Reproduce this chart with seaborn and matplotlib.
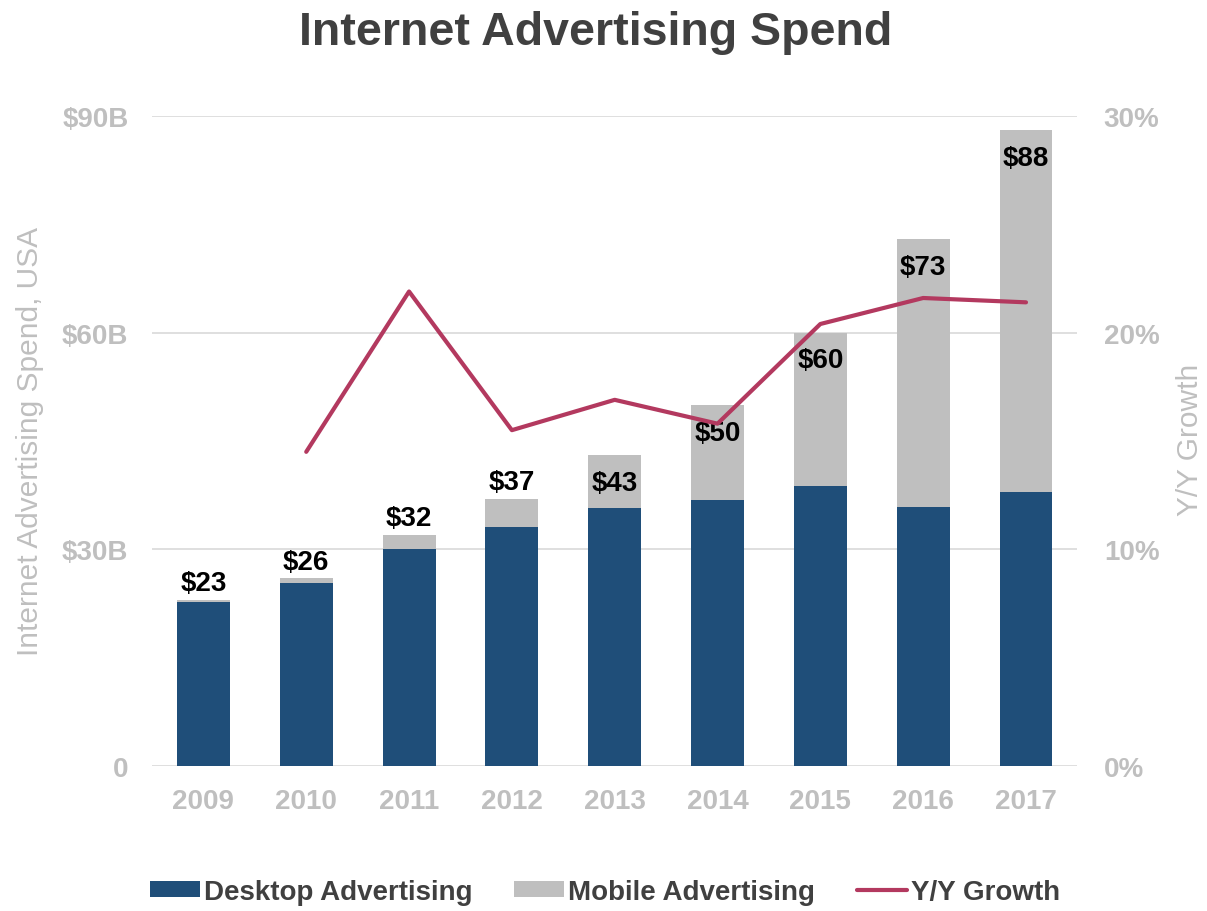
import numpy as np
import pandas as pd
import matplotlib
matplotlib.use("Agg")
import matplotlib.pyplot as plt
import seaborn as sns
from matplotlib.patches import Patch
from matplotlib.lines import Line2D

# Spend in $B by year, split by channel, and year-over-year growth of the total
years = ["2009", "2010", "2011", "2012", "2013", "2014", "2015", "2016", "2017"]
desktop = [22.7, 25.4, 30.1, 33.1, 35.7, 36.9, 38.8, 35.9, 37.9]
mobile = [0.3, 0.6, 1.9, 3.9, 7.3, 13.1, 21.2, 37.1, 50.1]
growth_years = ["2010", "2011", "2012", "2013", "2014", "2015", "2016", "2017"]
growth = [14.5, 21.9, 15.5, 16.9, 15.8, 20.4, 21.6, 21.4]

left_ticks = [0, 30, 60, 90]
left_ticklabels = ["0", "$30B", "$60B", "$90B"]
right_ticks = [0, 10, 20, 30]
right_ticklabels = ["0%", "10%", "20%", "30%"]

DESKTOP = "#1f4e79"
MOBILE = "#bfbfbf"
GROWTH = "#b3395f"
TICK = "#bfbfbf"
DARK = "#404040"

sns.set_theme(style="white")
plt.rcParams["font.family"] = ["Liberation Sans", "DejaVu Sans"]

df = pd.DataFrame({"year": years, "desktop": desktop, "mobile": mobile})
df["total"] = df["desktop"] + df["mobile"]

fig = plt.figure(figsize=(12.07, 9.12), dpi=100)
ax = fig.add_axes([152 / 1207, 145 / 912, 925.4 / 1207, 650 / 912])

# Stacked bars: full total in grey, desktop share drawn over it
sns.barplot(data=df, x="year", y="total", order=years, color=MOBILE,
            width=0.515, saturation=1, linewidth=0, ax=ax, zorder=2)
sns.barplot(data=df, x="year", y="desktop", order=years, color=DESKTOP,
            width=0.515, saturation=1, linewidth=0, ax=ax, zorder=3)

ax.set_xlim(-0.5, len(years) - 0.5)
ax.set_ylim(0, 90)
ax.set_yticks(left_ticks)
ax.set_yticklabels(left_ticklabels)
ax.set_xlabel("")
ax.set_ylabel("")
ax.grid(axis="y", color="#d9d9d9", linewidth=1.2, zorder=0)
ax.grid(axis="x", visible=False)
ax.set_axisbelow(True)
for s in ax.spines.values():
    s.set_visible(False)
ax.tick_params(axis="both", length=0, labelcolor=TICK, labelsize=20)
ax.tick_params(axis="y", pad=17)
ax.tick_params(axis="x", pad=16)
for lbl in ax.get_xticklabels() + ax.get_yticklabels():
    lbl.set_fontweight("bold")

# Total labels: above short grey caps, inside the bar top otherwise
for i, row in df.iterrows():
    tot = row["total"]
    if row["mobile"] > 5:
        ax.annotate(f"${tot:.0f}", (i, tot), xytext=(0, -20), textcoords="offset points",
                    ha="center", va="center", fontsize=20, fontweight="bold",
                    color="black", zorder=5)
    else:
        ax.annotate(f"${tot:.0f}", (i, tot), xytext=(0, 12), textcoords="offset points",
                    ha="center", va="center", fontsize=20, fontweight="bold",
                    color="black", zorder=5)

# Growth line on the secondary axis
ax2 = ax.twinx()
gx = [years.index(y) for y in growth_years]
sns.lineplot(x=gx, y=growth, color=GROWTH, linewidth=3, ax=ax2, zorder=4)
ax2.set_ylim(0, 30)
ax2.set_yticks(right_ticks)
ax2.set_yticklabels(right_ticklabels)
ax2.set_xlim(-0.5, len(years) - 0.5)
ax2.grid(False)
for s in ax2.spines.values():
    s.set_visible(False)
ax2.tick_params(axis="y", length=0, labelcolor=TICK, labelsize=20, pad=19)
for lbl in ax2.get_yticklabels():
    lbl.set_fontweight("bold")

fig.text(596 / 1207, 1 - 33 / 912, "Internet Advertising Spend", ha="center", va="center",
         fontsize=33.5, fontweight="bold", color=DARK)
fig.text(30 / 1207, 1 - 442 / 912, "Internet Advertising Spend, USA", rotation=90,
         ha="center", va="center", fontsize=21.5, color=TICK)
fig.text(1190 / 1207, 1 - 440 / 912, "Y/Y Growth", rotation=90,
         ha="center", va="center", fontsize=21.5, color=TICK)

handles = [
    Patch(facecolor=DESKTOP, edgecolor="none", label="Desktop Advertising"),
    Patch(facecolor=MOBILE, edgecolor="none", label="Mobile Advertising"),
    Line2D([0], [0], color=GROWTH, linewidth=3, label="Y/Y Growth"),
]
leg = fig.legend(handles=handles, loc="center", bbox_to_anchor=(605 / 1207, 1 - 893 / 912),
                 ncol=3, frameon=False, handlelength=1.8, handleheight=0.5,
                 handletextpad=0.15, columnspacing=1.5,
                 prop={"size": 20, "weight": "bold"})
for t in leg.get_texts():
    t.set_color(DARK)

fig.savefig("out.png", dpi=100)
